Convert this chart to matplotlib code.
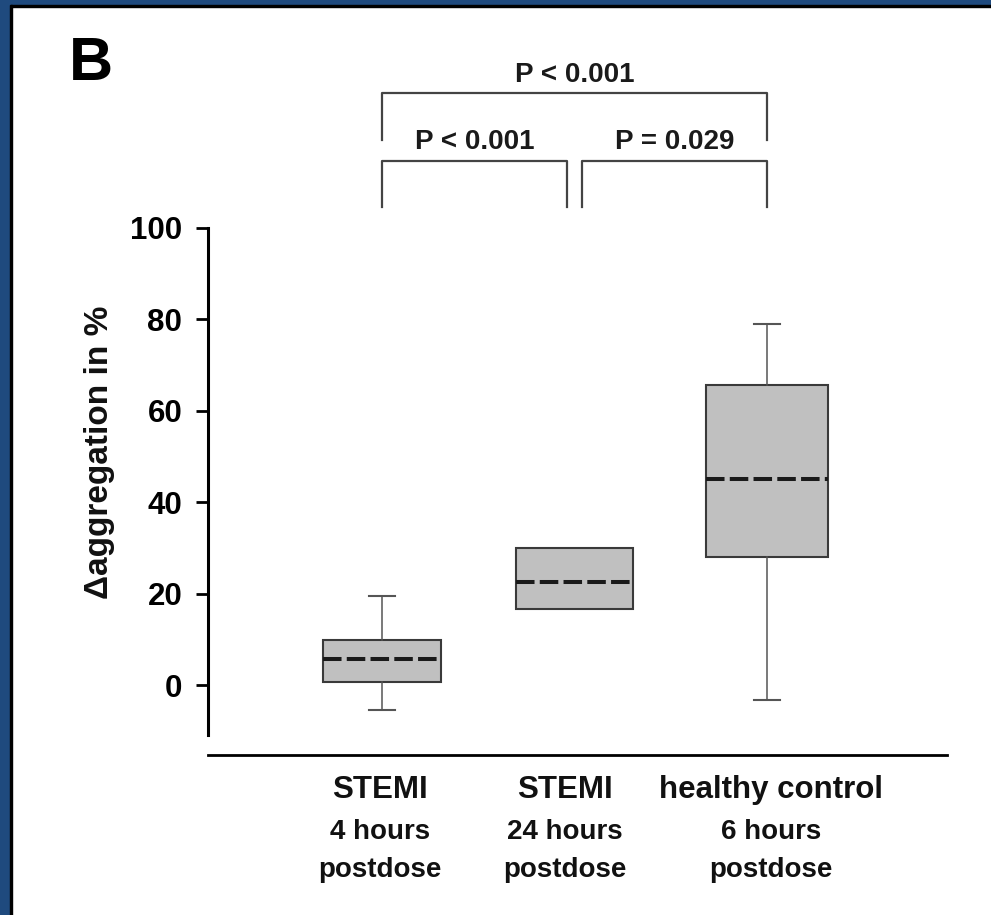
import matplotlib
matplotlib.use("Agg")
import matplotlib.pyplot as plt
from matplotlib.patches import Rectangle

plt.rcParams['font.family'] = ['Liberation Sans', 'DejaVu Sans']
plt.rcParams['font.weight'] = 'bold'

# ---- data ----
group_titles = ['STEMI', 'STEMI', 'healthy control']
group_subs = [['4 hours', 'postdose'], ['24 hours', 'postdose'], ['6 hours', 'postdose']]
whislo = [-5.5, 16.7, -3.3]
q1 = [0.7, 16.7, 27.9]
med = [5.6, 22.5, 45.0]
q3 = [9.9, 29.9, 65.6]
whishi = [19.5, 29.9, 78.8]
y_ticks = [0, 20, 40, 60, 80, 100]
comparisons = [(1, 3, 'P < 0.001'), (1, 2, 'P < 0.001'), (2, 3, 'P = 0.029')]

W, H = 991, 915
fig = plt.figure(figsize=(W / 100, H / 100), dpi=100)
fig.patch.set_facecolor('white')

# frame (top & left navy band with black inner line)
navy = '#1F4A7E'
fig.patches.append(Rectangle((0, 1 - 5 / H), 1, 5 / H, transform=fig.transFigure, color=navy, zorder=0))
fig.patches.append(Rectangle((0, 1 - 7 / H), 1, 2 / H, transform=fig.transFigure, color='black', zorder=0))
fig.patches.append(Rectangle((0, 0), 10 / W, 1, transform=fig.transFigure, color=navy, zorder=1))
fig.patches.append(Rectangle((10 / W, 0), 2 / W, 1 - 5 / H, transform=fig.transFigure, color='black', zorder=1))

left, right = 208 / W, 947 / W
top_px, bot_px = 227.5, 755
ax = fig.add_axes([left, (H - bot_px) / H, right - left, (bot_px - top_px) / H])

positions = [1, 2, 3]
stats = []
for i in range(3):
    stats.append(dict(whislo=whislo[i], q1=q1[i], med=med[i], q3=q3[i], whishi=whishi[i], fliers=[]))

ax.bxp(stats, positions=positions, widths=[0.61, 0.61, 0.63], capwidths=[0.14, 0.0, 0.14],
       patch_artist=True, showfliers=False,
       boxprops=dict(facecolor='#C0C0C0', edgecolor='#3a3a3a', linewidth=1.5),
       whiskerprops=dict(color='#555555', linewidth=1.1),
       capprops=dict(color='#555555', linewidth=1.5),
       medianprops=dict(color='#1a1a1a', linewidth=2.9, linestyle=(0, (4.6, 1.3))))

ax.set_xlim(0.096, 3.935)
ax.set_ylim(-15.3, 100)
ax.spines['top'].set_visible(False)
ax.spines['right'].set_visible(False)
ax.spines['left'].set_bounds(-11, 100)
ax.spines['left'].set_linewidth(2.2)
ax.spines['bottom'].set_linewidth(2.0)
ax.set_yticks(y_ticks)
ax.set_yticklabels([str(v) for v in y_ticks], fontsize=22.5, fontweight='bold')
ax.tick_params(axis='y', length=8.6, width=2.0, pad=10)
ax.set_xticks([])
ax.patch.set_alpha(0)

# category labels
label_shift = [-0.01, -0.05, 0.02]
for i, (t, subs) in enumerate(zip(group_titles, group_subs)):
    xpos = positions[i] + label_shift[i]
    ax.annotate(t, xy=(xpos, 0), xycoords=('data', 'axes fraction'),
                xytext=(0, -25.2), textcoords='offset points', ha='center', va='center',
                fontsize=22.5, fontweight='bold', color='#111111')
    for j, s in enumerate(subs):
        ax.annotate(s, xy=(xpos, 0), xycoords=('data', 'axes fraction'),
                    xytext=(0, -55.4 - j * 27.6), textcoords='offset points', ha='center', va='center',
                    fontsize=20, fontweight='bold', color='#111111')

# significance brackets
bc = '#444444'
a, b, txt = comparisons[0]
ax.plot([a, a, b, b], [119.1, 129.4, 129.4, 119.1], color=bc, lw=1.6, clip_on=False)
ax.text((a + b) / 2, 133.4, txt, ha='center', va='center', fontsize=20, fontweight='bold', color='#1a1a1a')
a, b, txt = comparisons[1]
ax.plot([a, a, b - 0.04, b - 0.04], [104.5, 114.5, 114.5, 104.5], color=bc, lw=1.6, clip_on=False)
ax.text((a + b - 0.04) / 2, 118.6, txt, ha='center', va='center', fontsize=20, fontweight='bold', color='#1a1a1a')
a, b, txt = comparisons[2]
ax.plot([a + 0.04, a + 0.04, b, b], [104.5, 114.5, 114.5, 104.5], color=bc, lw=1.6, clip_on=False)
ax.text((a + 0.04 + b) / 2, 118.6, txt, ha='center', va='center', fontsize=20, fontweight='bold', color='#1a1a1a')

# y label
fig.text(100 / W, 1 - 452 / H, 'Δaggregation in %', rotation=90, ha='center', va='center',
         fontsize=24, fontweight='bold', color='#111111')

# panel letter
fig.text(91 / W, 1 - 64 / H, 'B', ha='center', va='center', fontsize=44, fontweight='bold', color='black')

fig.savefig('out.png', dpi=100, facecolor='white')
